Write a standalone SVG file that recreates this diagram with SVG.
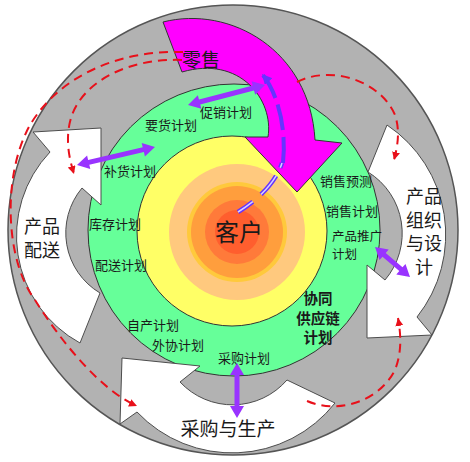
<svg xmlns="http://www.w3.org/2000/svg" width="470" height="462" viewBox="0 0 470 462">
<defs>
<style>
.lbl{font-family:"Noto Sans CJK SC","Noto Sans",sans-serif;fill:#1a1a1a;text-anchor:middle}
.s{font-size:13px}
.m{font-size:18px}
.wa{fill:#ffffff;stroke:#4d4d4d;stroke-width:1}
.red{fill:none;stroke:#e8101a;stroke-width:2;stroke-dasharray:9 6}
.pur{fill:#9933ff;stroke:none}
</style>
<marker id="rh" markerWidth="10" markerHeight="10" refX="8" refY="4" orient="auto" markerUnits="userSpaceOnUse"><path d="M0,0 L8,4 L0,8 Z" fill="#e8101a"/></marker>
<marker id="bh" markerWidth="14" markerHeight="14" refX="10" refY="5" orient="auto" markerUnits="userSpaceOnUse"><path d="M0,0 L10,5 L0,10 Z" fill="#6633ff"/></marker>
</defs>
<rect width="470" height="462" fill="#ffffff"/>
<g id="outer-ring"><circle cx="233" cy="230" r="225" fill="#b2b2b2" stroke="#555" stroke-width="1.5"/></g>
<g id="planning-ring"><circle cx="234" cy="230" r="146" fill="#66ff99" stroke="#333" stroke-width="1"/></g>
<g id="distribution"><path class="wa" d="M33,132 L101,128 L101,205 L82,188 A70,70 0 0 0 100,293 L80,343 A122,122 0 0 1 50,152 Z"/></g>
<g id="procurement"><path class="wa" d="M122,358 L200,366 L180,382 A72,72 0 0 0 287,380 L335,403 A131,131 0 0 1 137,412 L120,424 Z"/></g>
<g id="design"><path class="wa" d="M367,338 L432,335 L417,317 A132,132 0 0 0 387,125 L368,172 A72,72 0 0 1 385,280 L367,265 Z"/></g>
<g id="customer">
<circle cx="232" cy="231" r="95" fill="#ffff66" stroke="#333" stroke-width="1"/>
<circle cx="237" cy="232" r="68" fill="#ffc97e"/>
<circle cx="237" cy="232" r="50" fill="#ffc93c"/>
<circle cx="237" cy="232" r="46" fill="#ff9e3d"/>
<circle cx="237" cy="232" r="32" fill="#ff7a3a"/>
<circle cx="237" cy="232" r="22" fill="#ff5e2e"/>
</g>
<g id="retail"><path d="M163,22 C230,5 310,50 315,140 L342,143 L297,192 L245,137 L268,137 C274,100 240,55 182,72 Z" fill="#ff00ff" stroke="#333" stroke-width="1"/></g>
<g id="connectors">
<path class="pur" d="M188,105 L201.4,108.8 L200.2,104.4 L254,90.4 L255.2,94.8 L265,85 L251.6,81.2 L252.8,85.6 L199,99.6 L197.8,95.2 Z"/>
<path class="pur" d="M77,165 L90.3,169.1 L89.3,164.7 L143.9,152.1 L144.9,156.5 L155,147 L141.7,142.9 L142.7,147.3 L88.1,159.9 L87.1,155.5 Z"/>
<path class="pur" d="M375,247 L379.5,260.1 L382.5,256.7 L399.3,271.1 L396.3,274.5 L410,277 L405.5,263.9 L402.5,267.3 L385.7,252.9 L388.7,249.5 Z"/>
<path class="pur" d="M237,363 L230,375 L234.5,375 L234.5,406 L230,406 L237,418 L244,406 L239.5,406 L239.5,375 L244,375 Z"/>
<path class="red" d="M183,52 C120,50 60,75 30,125 C2,175 5,260 35,300 C60,340 100,390 137,406" marker-end="url(#rh)"/>
<path class="red" d="M182,60 C130,58 85,80 72,115 C65,135 68,155 74,174" marker-end="url(#rh)"/>
<path class="red" d="M297,82 C330,65 380,80 395,115 C400,130 398,145 394,160" marker-end="url(#rh)"/>
<path class="red" d="M307,401 C340,415 380,400 395,370 C402,352 401,335 398,318" marker-end="url(#rh)"/>
<path d="M238,212 C258,200 276,182 282,163" fill="none" stroke="#6633ff" stroke-width="4.5" stroke-dasharray="18 11 24 9"/>
<path d="M238,212 C258,200 276,182 282,163" fill="none" stroke="#d8d0ff" stroke-width="1.5" stroke-dasharray="18 11 24 9"/>
<path d="M283,163 C287,125 276,90 262,74" fill="none" stroke="#6633ff" stroke-width="4" stroke-dasharray="26 7" marker-end="url(#bh)"/>
</g>
<g id="labels">
<text class="lbl" x="201" y="67" font-size="19">零售</text>
<text class="lbl s" x="226" y="117">促销计划</text>
<text class="lbl s" x="171" y="130">要货计划</text>
<text class="lbl s" x="130" y="176">补货计划</text>
<text class="lbl s" x="115" y="229">库存计划</text>
<text class="lbl s" x="121" y="270">配送计划</text>
<text class="lbl s" x="153" y="330">自产计划</text>
<text class="lbl s" x="178" y="350">外协计划</text>
<text class="lbl s" x="244" y="363">采购计划</text>
<text class="lbl s" x="346" y="186">销售预测</text>
<text class="lbl s" x="352" y="216">销售计划</text>
<text class="lbl" font-size="12.5" style="text-anchor:start"><tspan x="332" y="241">产品推广</tspan><tspan x="332" y="259">计划</tspan></text>
<text class="lbl" font-size="14.5" font-weight="bold"><tspan x="318" y="304">协同</tspan><tspan x="318" y="323.5">供应链</tspan><tspan x="318" y="343">计划</tspan></text>
<text class="lbl" x="239" y="241" font-size="24">客户</text>
<text class="lbl m"><tspan x="42" y="233">产品</tspan><tspan x="42" y="257">配送</tspan></text>
<text class="lbl m"><tspan x="424" y="203">产品</tspan><tspan x="424" y="226.5">组织</tspan><tspan x="424" y="250">与设</tspan><tspan x="424" y="273.5">计</tspan></text>
<text class="lbl" x="228" y="436" font-size="19">采购与生产</text>
</g>
</svg>
